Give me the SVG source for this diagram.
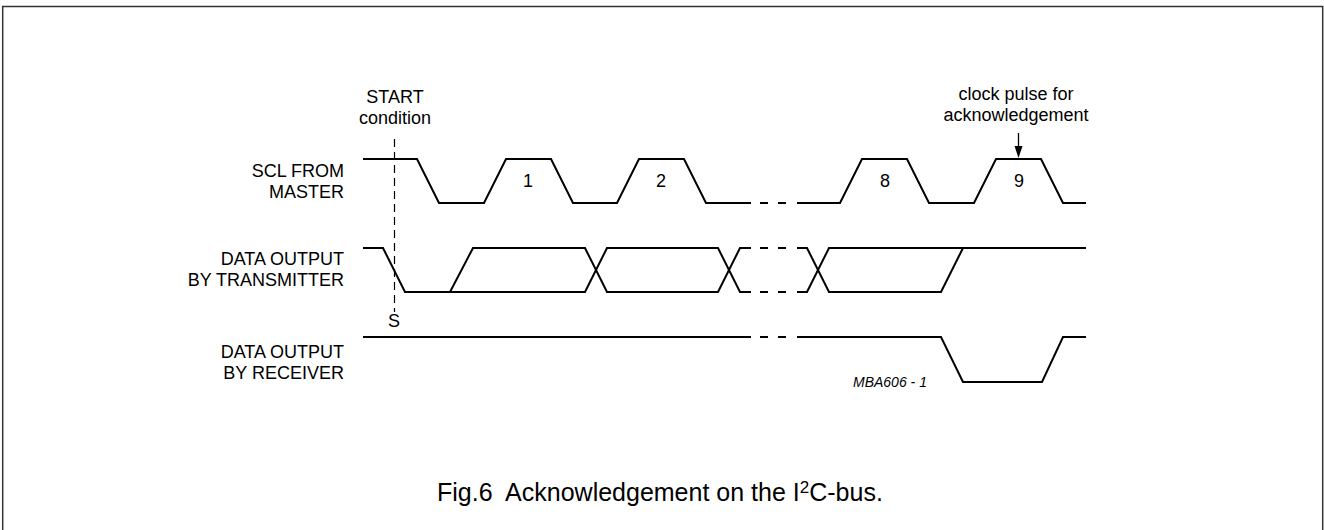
<svg xmlns="http://www.w3.org/2000/svg" width="1324" height="530" viewBox="0 0 1324 530">
<style>
.t{font-family:"Liberation Sans",Arial,sans-serif;font-size:18px;fill:#000}
.w{fill:none;stroke:#000;stroke-width:2;stroke-linejoin:miter}
.d{fill:none;stroke:#000;stroke-width:2;stroke-dasharray:8,10}
</style>
<rect x="2.7" y="6.5" width="1320" height="530" fill="#fff" stroke="#333" stroke-width="1.5"/>
<g id="labels">
<text class="t" x="344" y="177" text-anchor="end">SCL FROM</text>
<text class="t" x="344" y="198" text-anchor="end">MASTER</text>
<text class="t" x="344" y="265" text-anchor="end">DATA OUTPUT</text>
<text class="t" x="344" y="286" text-anchor="end">BY TRANSMITTER</text>
<text class="t" x="344" y="358" text-anchor="end">DATA OUTPUT</text>
<text class="t" x="344" y="379" text-anchor="end">BY RECEIVER</text>
</g>
<g id="start">
<text class="t" x="395" y="103" text-anchor="middle">START</text>
<text class="t" x="395" y="124" text-anchor="middle">condition</text>
<line x1="394.5" y1="139" x2="394.5" y2="312" stroke="#000" stroke-width="1.2" stroke-dasharray="8,5"/>
<text class="t" x="394" y="327" text-anchor="middle">S</text>
</g>
<g id="scl">
<path class="w" d="M363,159 H417 L439,203 H484 L506,159 H551 L573,203 H617 L639,159 H684 L706,203 H751"/>
<path class="d" d="M760,203 H787"/>
<path class="w" d="M797,203 H840 L862,159 H907 L929,203 H974 L996,159 H1041 L1063,203 H1086"/>
<text class="t" x="528" y="187" text-anchor="middle">1</text>
<text class="t" x="661" y="187" text-anchor="middle">2</text>
<text class="t" x="885" y="187" text-anchor="middle">8</text>
<text class="t" x="1019" y="187" text-anchor="middle">9</text>
</g>
<g id="ack-note">
<text class="t" x="1016" y="100" text-anchor="middle">clock pulse for</text>
<text class="t" x="1016" y="121" text-anchor="middle">acknowledgement</text>
<line x1="1018.5" y1="133" x2="1018.5" y2="147" stroke="#000" stroke-width="1.3"/>
<path d="M1014.5,146 L1022.5,146 L1018.5,158 Z" fill="#000"/>
</g>
<g id="transmitter">
<path class="w" d="M363,248 H383 L405,292 H585 L607,248 H718 L740,292 H751"/>
<path class="w" d="M450,292 L473,248 H585 L607,292 H718 L740,248 H751"/>
<path class="d" d="M760,248 H787 M760,292 H787"/>
<path class="w" d="M797,292 H807 L829,248 H1086"/>
<path class="w" d="M797,248 H807 L829,292 H941 L963,248"/>
</g>
<g id="receiver">
<path class="w" d="M363,337 H751"/>
<path class="d" d="M760,337 H787"/>
<path class="w" d="M797,337 H941 L963,382 H1042 L1063,337 H1086"/>
</g>
<text x="853" y="387" font-family="Liberation Sans,Arial,sans-serif" font-size="14" font-style="italic" fill="#000">MBA606 - 1</text>
<text x="437" y="501" font-family="Liberation Sans,Arial,sans-serif" font-size="25" fill="#000" xml:space="preserve">Fig.6  Acknowledgement on the I<tspan font-size="17" dy="-8">2</tspan><tspan dy="8">C-bus.</tspan></text>
</svg>
